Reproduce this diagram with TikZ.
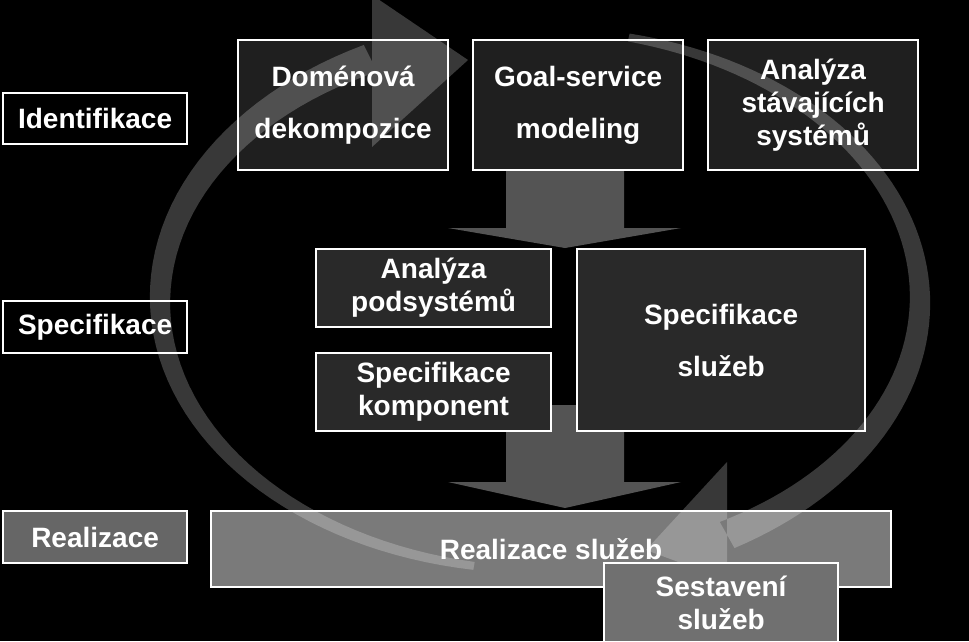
\documentclass[tikz,border=0pt]{standalone}
\usepackage{fontspec}
\setmainfont{Liberation Sans}
\begin{document}
\begin{tikzpicture}[x=1pt,y=-1pt,
  bx/.style={draw=white,line width=2.2pt,text=white,font=\bfseries\fontsize{28}{33}\selectfont,align=center,inner sep=0pt,anchor=north west},
  wide/.style={font=\bfseries\fontsize{28}{52}\selectfont},
  darr/.style={fill=black!67}]
\useasboundingbox[fill=black] (0,0) rectangle (969,641);
% down arrows
\fill[darr] (506,168) -- (624,168) -- (624,228) -- (681,228) -- (565,248) -- (448,228) -- (506,228) -- cycle;
\fill[darr] (506,405) -- (624,405) -- (624,482) -- (681,482) -- (565,508) -- (448,482) -- (506,482) -- cycle;
% left labels
\node[bx,fill=black,minimum width=184pt,minimum height=51pt] (id) at (2,92) {Identifikace};
\node[bx,fill=black,minimum width=184pt,minimum height=52pt] (sp) at (2,300) {Specifikace};
\node[bx,fill=black!60,minimum width=184pt,minimum height=52pt] (re) at (2,510) {Realizace};
% top boxes
\node[bx,wide,fill=black!88,minimum width=210pt,minimum height=130pt] (dom) at (237,39) {Doménová\\dekompozice};
\node[bx,wide,fill=black!88,minimum width=210pt,minimum height=130pt] (goal) at (472,39) {Goal-service\\modeling};
\node[bx,fill=black!88,minimum width=210pt,minimum height=130pt] (ana) at (707,39) {Analýza\\stávajících\\systémů};
% middle
\node[bx,fill=black!84,minimum width=235pt,minimum height=78pt] (pod) at (315,248) {Analýza\\podsystémů};
\node[bx,fill=black!84,minimum width=235pt,minimum height=78pt] (kom) at (315,352) {Specifikace\\komponent};
\node[bx,wide,fill=black!84,minimum width=288pt,minimum height=182pt] (slu) at (576,248) {Specifikace\\služeb};
% realizace
\node[bx,fill=black!52,minimum width=680pt,minimum height=76pt] (rs) at (210,510) {Realizace služeb};
% circular arrows
\fill[white,opacity=0.22]
  plot[domain=260:116.5,samples=60] ({540+(380+(4+11*(260-\x)/143.5))*cos(\x)},{300-(270+(4+11*(260-\x)/143.5))*sin(\x)})
  -- plot[domain=116.5:260,samples=60] ({540+(380-(4+11*(260-\x)/143.5))*cos(\x)},{300-(270-(4+11*(260-\x)/143.5))*sin(\x)}) -- cycle
  (372,-5) -- (468,60) -- (372,147) -- cycle;
\fill[white,opacity=0.22]
  plot[domain=76.5:-60.5,samples=70] ({540+(380+(4+11*(76.5-\x)/137))*cos(\x)},{300-(270+(4+11*(76.5-\x)/137))*sin(\x)})
  -- plot[domain=-60.5:76.5,samples=70] ({540+(380-(4+11*(76.5-\x)/137))*cos(\x)},{300-(270-(4+11*(76.5-\x)/137))*sin(\x)}) -- cycle
  (727,462) -- (646,550) -- (727,580) -- cycle;
\node[bx,fill=black!56,minimum width=234pt,minimum height=79pt] (ses) at (603,562) {Sestavení\\služeb};
\end{tikzpicture}
\end{document}
